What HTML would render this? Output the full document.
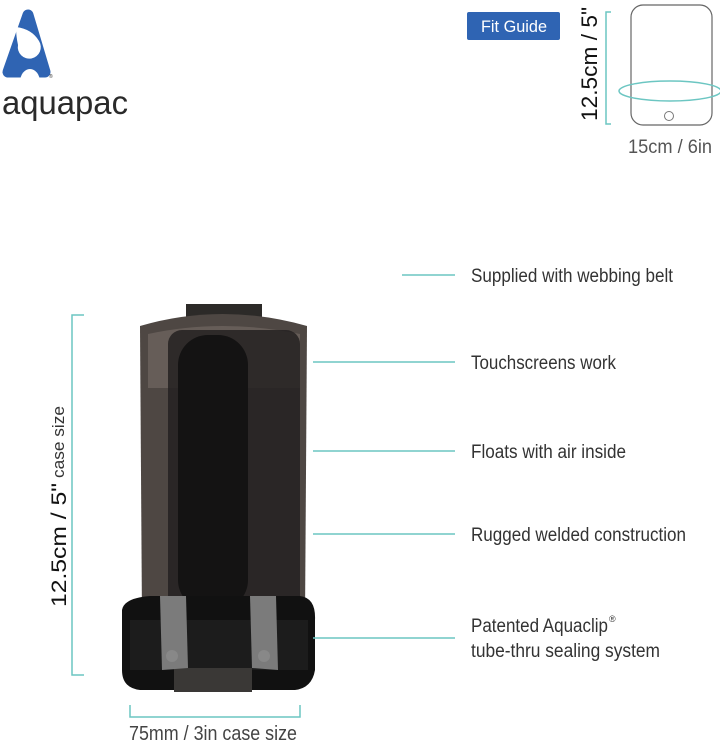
<!DOCTYPE html>
<html><head><meta charset="utf-8"><style>
html,body{margin:0;padding:0;background:#fff;width:720px;height:744px;overflow:hidden}
svg{display:block}
text{font-family:"Liberation Sans",sans-serif;fill:#333}
</style></head><body>
<svg width="720" height="744" viewBox="0 0 720 744" xmlns="http://www.w3.org/2000/svg">
<!-- logo -->
<path d="M28,15 L8,72 L45,72 Z" fill="#2f64b3" stroke="#2f64b3" stroke-width="11" stroke-linejoin="round"/>
<ellipse cx="30" cy="82" rx="10" ry="13" fill="#fff"/>
<path d="M16,27 Q32,29 39,41 A11.5,11.5 0 1 1 18,45 Q16,36 16,27 Z" fill="#fff"/>
<text x="49" y="78" font-size="5" fill="#2f64b3">®</text>
<text x="2" y="114" font-size="33" textLength="126" lengthAdjust="spacingAndGlyphs" style="fill:#2a2a2a">aquapac</text>
<!-- fit guide -->
<rect x="467" y="12" width="93" height="28" rx="2" fill="#2f64b3"/>
<text x="481" y="32" font-size="17" textLength="66" lengthAdjust="spacingAndGlyphs" style="fill:#fff">Fit Guide</text>
<text transform="translate(597,121) rotate(-90)" font-size="22" textLength="114" lengthAdjust="spacingAndGlyphs" style="fill:#111">12.5cm / 5"</text>
<path d="M611,12 L606,12 L606,124 L611,124" fill="none" stroke="#6cc6c2" stroke-width="1.5"/>
<rect x="631" y="5" width="81" height="120" rx="12" fill="none" stroke="#666" stroke-width="1.2"/>
<circle cx="669" cy="116" r="4.5" fill="none" stroke="#777" stroke-width="1"/>
<ellipse cx="670" cy="91" rx="51" ry="10" fill="none" stroke="#6cc6c2" stroke-width="1.5"/>
<text x="628" y="153" font-size="19" textLength="84" lengthAdjust="spacingAndGlyphs" style="fill:#555">15cm / 6in</text>
<!-- case -->
<rect x="186" y="304" width="76" height="20" fill="#2c2a28"/>
<path d="M140,326 Q222,302 307,326 L305,620 L142,620 Z" fill="#4e4743"/>
<path d="M148,334 Q222,318 300,334 L300,388 L148,388 Z" fill="#665d58"/>
<rect x="168" y="330" width="132" height="285" rx="14" fill="#242121" opacity="0.85"/>
<rect x="178" y="335" width="70" height="275" rx="30" fill="#141313"/>
<path d="M122,610 Q124,598 150,596 L300,596 Q316,598 315,620 L315,670 Q312,688 295,690 L140,690 Q122,688 122,670 Z" fill="#111"/>
<rect x="130" y="620" width="178" height="50" fill="#1c1c1c"/>
<rect x="174" y="668" width="78" height="24" fill="#3a3836"/>
<path d="M160,596 L186,596 L188,668 L162,670 Z" fill="#7b7b7b"/>
<path d="M250,596 L276,596 L278,670 L252,668 Z" fill="#7b7b7b"/>
<circle cx="172" cy="656" r="6" fill="#888"/><circle cx="264" cy="656" r="6" fill="#888"/>
<!-- left bracket -->
<path d="M84,315 L72,315 L72,675 L84,675" fill="none" stroke="#6cc6c2" stroke-width="1.5"/>
<text transform="translate(66,607) rotate(-90)" font-size="21" textLength="124" lengthAdjust="spacingAndGlyphs" style="fill:#111">12.5cm / 5"</text>
<text transform="translate(64,478) rotate(-90)" font-size="17" textLength="72" lengthAdjust="spacingAndGlyphs" style="fill:#333">case size</text>
<!-- bottom bracket -->
<path d="M130,705 L130,717 L300,717 L300,705" fill="none" stroke="#6cc6c2" stroke-width="1.5"/>
<text x="129" y="740" font-size="20" textLength="168" lengthAdjust="spacingAndGlyphs" style="fill:#444">75mm / 3in case size</text>
<!-- callouts -->
<g stroke="#6cc6c2" stroke-width="1.5">
<line x1="402" y1="275" x2="455" y2="275"/>
<line x1="313" y1="362" x2="455" y2="362"/>
<line x1="313" y1="451" x2="455" y2="451"/>
<line x1="313" y1="534" x2="455" y2="534"/>
<line x1="313" y1="638" x2="455" y2="638"/>
</g>
<g font-size="19">
<text x="471" y="282" textLength="202" lengthAdjust="spacingAndGlyphs">Supplied with webbing belt</text>
<text x="471" y="369" textLength="145" lengthAdjust="spacingAndGlyphs">Touchscreens work</text>
<text x="471" y="458" textLength="155" lengthAdjust="spacingAndGlyphs">Floats with air inside</text>
<text x="471" y="541" textLength="215" lengthAdjust="spacingAndGlyphs">Rugged welded construction</text>
<text x="471" y="632" textLength="137" lengthAdjust="spacingAndGlyphs">Patented Aquaclip</text>
<text x="609" y="622" font-size="9">®</text>
<text x="471" y="657" textLength="189" lengthAdjust="spacingAndGlyphs">tube-thru sealing system</text>
</g>
</svg>
</body></html>
